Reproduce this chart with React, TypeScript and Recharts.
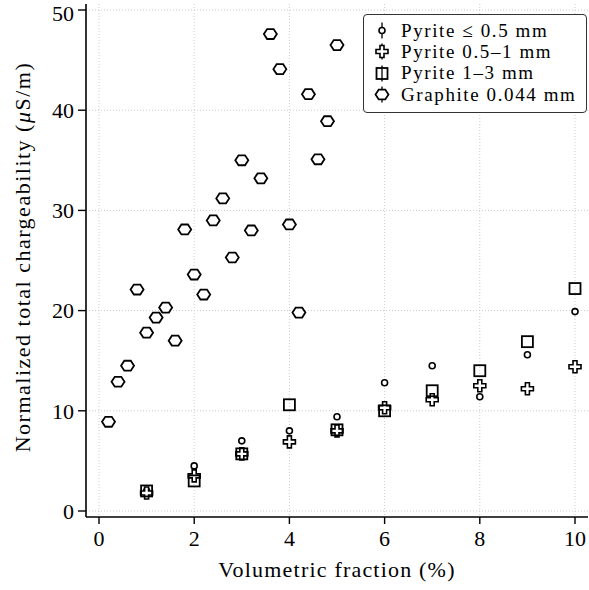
import React from "react";
import {
  ScatterChart,
  Scatter,
  XAxis,
  YAxis,
  CartesianGrid,
  Legend,
} from "recharts";

const FONT = "'Liberation Serif', serif";

const pyriteX = [1, 2, 3, 4, 5, 6, 7, 8, 9, 10];
const fineVals = [2.0, 4.5, 7.0, 8.0, 9.4, 12.8, 14.5, 11.4, 15.6, 19.9];
const midVals = [1.8, 3.5, 5.7, 6.9, 8.0, 10.3, 11.1, 12.5, 12.2, 14.4];
const coarseVals = [2.0, 3.0, 5.7, 10.6, 8.1, 10.0, 12.0, 14.0, 16.9, 22.2];

const graphiteX = [
  0.2, 0.4, 0.6, 0.8, 1.0, 1.2, 1.4, 1.6, 1.8, 2.0, 2.2, 2.4, 2.6, 2.8, 3.0,
  3.2, 3.4, 3.6, 3.8, 4.0, 4.2, 4.4, 4.6, 4.8, 5.0,
];
const graphiteVals = [
  8.9, 12.9, 14.5, 22.1, 17.8, 19.3, 20.3, 17.0, 28.1, 23.6, 21.6, 29.0, 31.2,
  25.3, 35.0, 28.0, 33.2, 47.6, 44.1, 28.6, 19.8, 41.6, 35.1, 38.9, 46.5,
];

const xTicks = [0, 2, 4, 6, 8, 10];
const yTicks = [0, 10, 20, 30, 40, 50];

const legendNames = [
  "Pyrite \u2264 0.5 mm",
  "Pyrite 0.5\u20131 mm",
  "Pyrite 1\u20133 mm",
  "Graphite 0.044 mm",
];

const toPoints = (xs: number[], ys: number[]) =>
  xs.map((x, i) => ({ x, y: ys[i] }));

function Circle({ cx, cy }: any) {
  return <circle cx={cx} cy={cy} r={3} fill="#fff" stroke="#000" strokeWidth={1.6} />;
}

function Plus({ cx, cy }: any) {
  const a = 6;
  const b = 2;
  const d = `M${cx - b},${cy - a} h${2 * b} v${a - b} h${a - b} v${2 * b} h${-(a - b)} v${a - b} h${-2 * b} v${-(a - b)} h${-(a - b)} v${-2 * b} h${a - b} Z`;
  return <path d={d} fill="#fff" stroke="#000" strokeWidth={1.6} />;
}

function Square({ cx, cy }: any) {
  return (
    <rect x={cx - 5.5} y={cy - 5.5} width={11} height={11} fill="none" stroke="#000" strokeWidth={1.8} />
  );
}

function Hexagon({ cx, cy }: any) {
  const r = 6.5;
  const pts = [0, 60, 120, 180, 240, 300]
    .map((deg) => {
      const t = (deg * Math.PI) / 180;
      return `${cx + r * Math.cos(t)},${cy + r * 0.88 * Math.sin(t)}`;
    })
    .join(" ");
  return <polygon points={pts} fill="#fff" stroke="#000" strokeWidth={1.8} />;
}

const shapes = [Circle, Plus, Square, Hexagon];

function LegendBox() {
  return (
    <div
      style={{
        boxSizing: "border-box",
        width: 224,
        height: 99,
        border: "1.3px solid #333",
        borderRadius: 4,
        background: "#fff",
        padding: "5px 0 0 7px",
        fontFamily: FONT,
        fontSize: 19,
        letterSpacing: 1.6,
        color: "#000",
      }}
    >
      {legendNames.map((name, i) => {
        const Shape = shapes[i];
        return (
          <div key={name} style={{ display: "flex", alignItems: "center", height: 21.3, whiteSpace: "nowrap" }}>
            <svg width={22} height={21} style={{ marginRight: 8, flex: "none" }}>
              <line x1={11} y1={2.5} x2={11} y2={18.5} stroke="#000" strokeWidth={1.3} />
              <Shape cx={11} cy={10.5} />
            </svg>
            <span>{name}</span>
          </div>
        );
      })}
    </div>
  );
}

function YLabel() {
  return (
    <text
      x={22}
      y={257}
      transform="rotate(-90 22 257)"
      textAnchor="middle"
      dominantBaseline="central"
      fontFamily={FONT}
      fontSize={22}
      letterSpacing={1.5}
      fill="#000"
    >
      Normalized total chargeability (<tspan fontStyle="italic">μ</tspan>S/m)
    </text>
  );
}

export default function App() {
  return (
    <div style={{ position: "absolute", left: 0, top: 0, background: "#fff" }}>
      <ScatterChart
        width={589}
        height={590}
        margin={{ top: 4, right: 1, bottom: 43, left: 26 }}
      >
        <CartesianGrid
          stroke="#ccc"
          strokeDasharray="1 2"
          horizontalValues={yTicks}
          verticalValues={xTicks}
        />
        <XAxis
          type="number"
          dataKey="x"
          domain={[-0.273, 10.273]}
          ticks={xTicks}
          allowDataOverflow
          height={30}
          tickSize={7}
          stroke="#000"
          axisLine={{ stroke: "#000", strokeWidth: 1.6 }}
          tickLine={{ stroke: "#000", strokeWidth: 1.4 }}
          tick={{ fill: "#000", fontSize: 22, fontFamily: FONT, dy: 4 }}
          label={{
            value: "Volumetric fraction (%)",
            position: "bottom",
            offset: 14,
            fill: "#000",
            fontSize: 22,
            fontFamily: FONT,
            letterSpacing: 1.2,
          }}
        />
        <XAxis
          xAxisId="top"
          orientation="top"
          type="number"
          domain={[-0.273, 10.273]}
          height={0}
          tick={false}
          tickLine={false}
          axisLine={{ stroke: "#000", strokeWidth: 1.6 }}
        />
        <YAxis
          type="number"
          dataKey="y"
          domain={[-0.6, 50.6]}
          ticks={yTicks}
          allowDataOverflow
          width={60}
          tickSize={8}
          axisLine={{ stroke: "#000", strokeWidth: 1.6 }}
          tickLine={{ stroke: "#000", strokeWidth: 1.4 }}
          tick={{ fill: "#000", fontSize: 22, fontFamily: FONT, dx: -2 }}
          label={{ content: () => <YLabel /> }}
        />
        <YAxis
          yAxisId="right"
          orientation="right"
          type="number"
          domain={[-0.6, 50.6]}
          width={0}
          tick={false}
          tickLine={false}
          axisLine={{ stroke: "#000", strokeWidth: 1.6 }}
        />
        <Legend
          layout="vertical"
          align="center"
          verticalAlign="middle"
          wrapperStyle={{ top: 14, left: 363, width: 224 }}
          content={() => <LegendBox />}
        />
        <Scatter name={legendNames[0]} data={toPoints(pyriteX, fineVals)} shape={Circle} isAnimationActive={false} />
        <Scatter name={legendNames[1]} data={toPoints(pyriteX, midVals)} shape={Plus} isAnimationActive={false} />
        <Scatter name={legendNames[2]} data={toPoints(pyriteX, coarseVals)} shape={Square} isAnimationActive={false} />
        <Scatter name={legendNames[3]} data={toPoints(graphiteX, graphiteVals)} shape={Hexagon} isAnimationActive={false} />
      </ScatterChart>
    </div>
  );
}
